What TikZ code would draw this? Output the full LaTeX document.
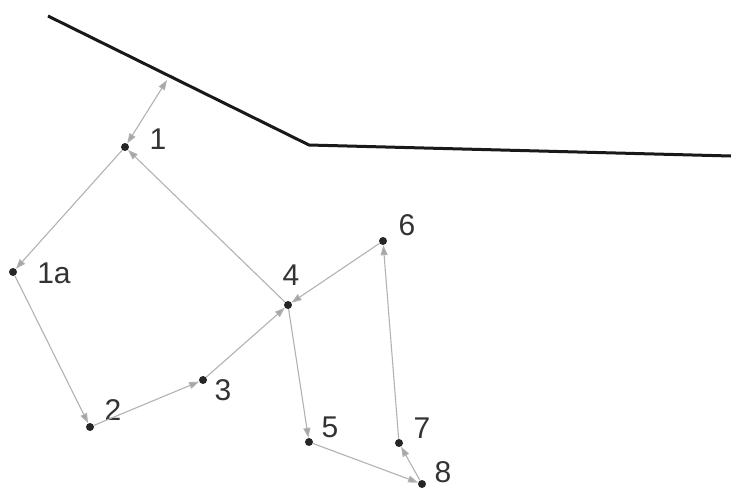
\documentclass[tikz,border=0pt]{standalone}
\usepackage{fontspec}
\setmainfont{Liberation Sans}
\usetikzlibrary{arrows.meta}
\definecolor{edgegrey}{RGB}{178,178,178}
\definecolor{tipgrey}{RGB}{165,165,165}

\begin{document}
\begin{tikzpicture}[x=1pt, y=-1pt,
        point/.style={circle, fill=black!85, inner sep=0pt, minimum size=8pt},
        lbl/.style={font=\fontsize{30}{32}\selectfont, text=black!80, inner sep=0pt},
        link/.style={-{Triangle[length=10pt, width=7pt, fill=tipgrey]}, draw=edgegrey, line width=1.1pt},
        twoway/.style={{Triangle[length=10pt, width=7pt, fill=tipgrey]}-{Triangle[length=10pt, width=7pt, fill=tipgrey]}, draw=edgegrey, line width=1.1pt},
        wall/.style={line width=3pt, draw=black!90}
    ]
        \useasboundingbox (0,0) rectangle (731,491);

        % Boundary line
        \coordinate (w1) at (48,16);
        \coordinate (w2) at (309,145);
        \coordinate (w3) at (731,156);
        \draw [wall] (w1) -- (w2) -- (w3);
        \coordinate (wp) at (167,80);

        % Points
        \node (p1) [point] at (125,147) {};
        \node (p1a) [point] at (13,272) {};
        \node (p2) [point] at (90,427) {};
        \node (p3) [point] at (203,380) {};
        \node (p4) [point] at (288,305) {};
        \node (p5) [point] at (309,442) {};
        \node (p6) [point] at (383,241) {};
        \node (p7) [point] at (399,443) {};
        \node (p8) [point] at (422,484) {};

        % Labels
        \node (l1) [lbl] at (158,139) {1};
        \node (l1a) [lbl] at (54,273) {1a};
        \node (l2) [lbl] at (113,410) {2};
        \node (l3) [lbl] at (223,390) {3};
        \node (l4) [lbl] at (291,275) {4};
        \node (l5) [lbl] at (330,427) {5};
        \node (l6) [lbl] at (407,225) {6};
        \node (l7) [lbl] at (422,428) {7};
        \node (l8) [lbl] at (443,472) {8};

        % Arrows
        \draw [twoway] (p1) -- (wp);
        \draw [link] (p1) -- (p1a);
        \draw [link] (p1a) -- (p2);
        \draw [link] (p2) -- (p3);
        \draw [link] (p3) -- (p4);
        \draw [link] (p4) -- (p1);
        \draw [link] (p6) -- (p4);
        \draw [link] (p4) -- (p5);
        \draw [link] (p5) -- (p8);
        \draw [link] (p8) -- (p7);
        \draw [link] (p7) -- (p6);
    \end{tikzpicture}
\end{document}
